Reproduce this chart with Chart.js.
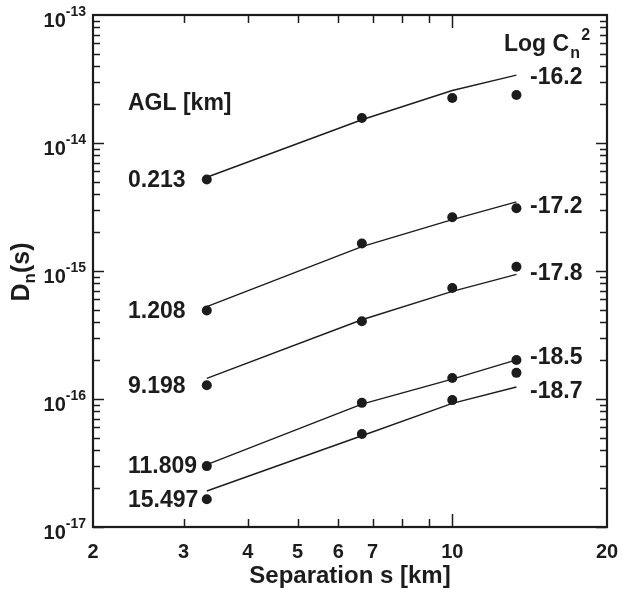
<!DOCTYPE html>
<html>
<head>
<meta charset="utf-8">
<script src="https://cdn.jsdelivr.net/npm/chart.js@4.4.1/dist/chart.umd.min.js"></script>
<style>
  html, body { margin: 0; padding: 0; background: #fff; }
  #wrap { width: 628px; height: 593px; }
</style>
</head>
<body>
<div id="wrap"><canvas id="dnChart" width="628" height="593"></canvas></div>
<script>
// separations [km] where D_n(s) was evaluated
const separations = [3.33, 6.67, 10, 13.33];

// altitude above ground [km] and log Cn^2 for each profile
const altitudes = ["0.213", "1.208", "9.198", "11.809", "15.497"];
const logCn2 = ["-16.2", "-17.2", "-17.8", "-18.5", "-18.7"];

// measured structure function (dots)
const dn0213 = [5.18e-15, 1.57e-14, 2.25e-14, 2.37e-14];
const dn1208 = [4.91e-16, 1.64e-15, 2.63e-15, 3.09e-15];
const dn9198 = [1.28e-16, 4.05e-16, 7.36e-16, 1.08e-15];
const dn11809 = [2.99e-17, 9.33e-17, 1.46e-16, 2.02e-16];
const dn15497 = [1.65e-17, 5.32e-17, 9.8e-17, 1.6e-16];

// model curves (lines)
const fit0213 = [5.4e-15, 1.52e-14, 2.57e-14, 3.39e-14];
const fit1208 = [5.27e-16, 1.55e-15, 2.52e-15, 3.47e-15];
const fit9198 = [1.45e-16, 4.16e-16, 6.93e-16, 9.4e-16];
const fit11809 = [3.07e-17, 9.12e-17, 1.43e-16, 2.02e-16];
const fit15497 = [1.91e-17, 5.16e-17, 9.25e-17, 1.24e-16];

// axis ticks
const xTickLabels = [2, 3, 4, 5, 6, 7, 10, 20];
const xTickMarks = [3, 4, 5, 6, 7, 8, 9, 10];
const yDecades = [-17, -16, -15, -14, -13];

const measured = [dn0213, dn1208, dn9198, dn11809, dn15497];
const fitted = [fit0213, fit1208, fit9198, fit11809, fit15497];

const INK = "#1c1c1c";
const FONT = "'Liberation Sans', Arial, Helvetica, sans-serif";

const toPoints = (vals) => vals.map((v, i) => ({ x: separations[i], y: v }));

const datasets = [];
fitted.forEach((vals, i) => {
    datasets.push({
        label: "fit " + altitudes[i],
        data: toPoints(vals),
        showLine: true,
        borderColor: INK,
        borderWidth: 1.4,
        pointRadius: 0,
        order: 2,
    });
});
measured.forEach((vals, i) => {
    datasets.push({
        label: altitudes[i] + " km",
        data: toPoints(vals),
        showLine: false,
        pointRadius: 5,
        pointBackgroundColor: INK,
        pointBorderWidth: 0,
        order: 1,
    });
});

// frame, inward ticks, labels and annotations
const framePlugin = {
    id: "frame",
    afterDatasetsDraw(chart) {
        const { ctx, chartArea: a, scales } = chart;
        const x = scales.x;
        const y = scales.y;
        ctx.save();
        ctx.strokeStyle = INK;
        ctx.fillStyle = INK;

        // ticks
        ctx.lineWidth = 1.5;
        ctx.beginPath();
        xTickMarks.forEach((v) => {
            const px = Math.round(x.getPixelForValue(v)) + 0.5;
            const len = v === 10 ? 13 : 8;
            ctx.moveTo(px, a.bottom);
            ctx.lineTo(px, a.bottom - len);
            ctx.moveTo(px, a.top);
            ctx.lineTo(px, a.top + len);
        });
        yDecades.slice(0, -1).forEach((d) => {
            for (let m = 1; m <= 9; m++) {
                const py = Math.round(y.getPixelForValue(m * Math.pow(10, d))) + 0.5;
                const len = m === 1 ? 11 : 7;
                ctx.moveTo(a.left, py);
                ctx.lineTo(a.left + len, py);
                ctx.moveTo(a.right, py);
                ctx.lineTo(a.right - len, py);
            }
        });
        ctx.stroke();

        // box
        ctx.lineWidth = 2.2;
        ctx.strokeRect(a.left, a.top, a.right - a.left, a.bottom - a.top);

        // x tick labels
        ctx.font = "bold 20px " + FONT;
        ctx.textAlign = "center";
        ctx.textBaseline = "alphabetic";
        xTickLabels.forEach((v) => {
            ctx.fillText(String(v), x.getPixelForValue(v), a.bottom + 31);
        });

        // y tick labels 10^n
        yDecades.forEach((d) => {
            const py = y.getPixelForValue(Math.pow(10, d));
            const right = a.left - 7;
            ctx.font = "bold 14px " + FONT;
            ctx.textAlign = "right";
            const exp = String(d);
            const ew = ctx.measureText(exp).width;
            ctx.fillText(exp, right, py + 1);
            ctx.font = "bold 20px " + FONT;
            ctx.fillText("10", right - ew, py + 12);
        });

        // axis titles
        ctx.font = "bold 24px " + FONT;
        ctx.textAlign = "center";
        ctx.fillText("Separation s [km]", (a.left + a.right) / 2, a.bottom + 56);

        ctx.save();
        ctx.translate(29, 272);
        ctx.rotate(-Math.PI / 2);
        ctx.textAlign = "left";
        ctx.font = "bold 25px " + FONT;
        const wD = ctx.measureText("D").width;
        ctx.font = "bold 17px " + FONT;
        const wn = ctx.measureText("n").width;
        ctx.font = "bold 25px " + FONT;
        const wS = ctx.measureText("(s)").width;
        let cx = -(wD + wn + wS) / 2;
        ctx.fillText("D", cx, 0);
        cx += wD;
        ctx.font = "bold 17px " + FONT;
        ctx.fillText("n", cx, 6);
        cx += wn;
        ctx.font = "bold 25px " + FONT;
        ctx.fillText("(s)", cx, 0);
        ctx.restore();

        // altitude labels
        ctx.font = "bold 23px " + FONT;
        ctx.textAlign = "left";
        ctx.textBaseline = "middle";
        ctx.fillText("AGL [km]", 128, 104);
        measured.forEach((vals, i) => {
            ctx.fillText(altitudes[i], 128, y.getPixelForValue(vals[0]) + 1);
        });

        // log Cn^2 labels at the end of each curve
        const nudge = [3, 5, -1, -2, 5];
        fitted.forEach((vals, i) => {
            const py = y.getPixelForValue(vals[vals.length - 1]);
            ctx.fillText(logCn2[i], 530, py + nudge[i]);
        });

        // Log Cn^2 header
        ctx.textBaseline = "alphabetic";
        ctx.fillText("Log C", 504, 51);
        const wl = ctx.measureText("Log C").width;
        ctx.font = "bold 16px " + FONT;
        ctx.fillText("n", 504 + wl + 1, 58);
        ctx.fillText("2", 504 + wl + 12, 40);

        ctx.restore();
    },
};

new Chart(document.getElementById("dnChart"), {
    type: "scatter",
    data: { datasets },
    options: {
        responsive: false,
        animation: false,
        layout: {
            padding: { left: 93, right: 21, top: 15, bottom: 66 },
        },
        plugins: {
            legend: { display: false },
            tooltip: { enabled: false },
        },
        scales: {
            x: {
                type: "logarithmic",
                min: 2,
                max: 20,
                display: false,
            },
            y: {
                type: "logarithmic",
                min: 1e-17,
                max: 1e-13,
                display: false,
            },
        },
    },
    plugins: [framePlugin],
});
</script>
</body>
</html>
